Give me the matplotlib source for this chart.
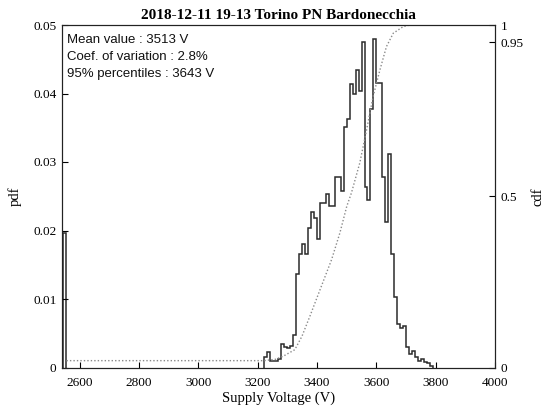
import matplotlib
matplotlib.use("Agg")
import matplotlib.pyplot as plt
import numpy as np

title = "2018-12-11 19-13 Torino PN Bardonecchia"
stats_lines = ["Mean value : 3513 V", "Coef. of variation : 2.8%", "95% percentiles : 3643 V"]

# isolated low-voltage bin
spike_edges = [2545, 2555]
spike_pdf = [0.0197]

# main histogram, 10 V bins starting at 3220 V
main_start = 3220
bin_width = 10
main_pdf = [
    0.0015, 0.0022, 0.0010, 0.0010, 0.0010, 0.0013, 0.0035, 0.0030, 0.0028, 0.0032,  # 3220-3310
    0.0048, 0.0136, 0.0166, 0.0180, 0.0166, 0.0203, 0.0227, 0.0218, 0.0188, 0.0240,  # 3320-3410
    0.0240, 0.0254, 0.0236, 0.0236, 0.0278, 0.0278, 0.0258, 0.0351, 0.0363, 0.0414,  # 3420-3510
    0.0399, 0.0434, 0.0404, 0.0475, 0.0263, 0.0244, 0.0378, 0.0480, 0.0416, 0.0416,  # 3520-3610
    0.0278, 0.0212, 0.0312, 0.0166, 0.0103, 0.0064, 0.0057, 0.0060, 0.0030, 0.0020,  # 3620-3710
    0.0024, 0.0016, 0.0010, 0.0012, 0.0008, 0.0006, 0.0002,                          # 3720-3780
]

# cumulative distribution
cdf_v = [2555, 3220, 3260, 3286, 3325, 3349, 3376, 3410, 3449, 3477, 3500, 3516,
         3544, 3567, 3589, 3612, 3634, 3657, 3690, 3713, 3790]
cdf_p = [0.02, 0.02, 0.024, 0.033, 0.052, 0.091, 0.15, 0.227, 0.315, 0.393, 0.47, 0.51,
         0.597, 0.694, 0.791, 0.869, 0.937, 0.976, 0.995, 1.0, 1.0]

x_ticks = [2600, 2800, 3000, 3200, 3400, 3600, 3800, 4000]
pdf_ticks = [0, 0.01, 0.02, 0.03, 0.04, 0.05]
pdf_tick_labels = ["0", "0.01", "0.02", "0.03", "0.04", "0.05"]
cdf_ticks = [0, 0.5, 0.95, 1]
cdf_tick_labels = ["0", "0.5", "0.95", "1"]

serif = ["Liberation Serif", "DejaVu Serif"]
sans = ["Liberation Sans", "DejaVu Sans"]

fig = plt.figure(figsize=(5.48, 4.09), dpi=100)
ax = fig.add_axes([62 / 548, 1 - 367.5 / 409, (495 - 62) / 548, (367.5 - 25) / 409])

main_edges = main_start + bin_width * np.arange(len(main_pdf) + 1)
ax.stairs(main_pdf, main_edges, baseline=0, color="#2b2b2b", linewidth=1.1)
ax.stairs(spike_pdf, spike_edges, baseline=0, color="#2b2b2b", linewidth=1.1)

ax.set_xlim(2540, 4000)
ax.set_ylim(0, 0.05)
ax.set_xticks(x_ticks)
ax.set_xticklabels([str(t) for t in x_ticks], family=serif, fontsize=9.5)
ax.set_yticks(pdf_ticks)
ax.set_yticklabels(pdf_tick_labels, family=serif, fontsize=9.5)
ax.tick_params(direction="in", length=4, width=0.8, pad=4)
ax.tick_params(axis="x", pad=6.5)
ax.set_xlabel("Supply Voltage (V)", family=serif, fontsize=10.5, labelpad=2)
ax.set_ylabel("pdf", family=serif, fontsize=10.5, labelpad=8)
ax.set_title(title, family=serif, fontsize=11, fontweight="bold", pad=4)

ax2 = ax.twinx()
ax2.plot(cdf_v, cdf_p, linestyle=(0, (1, 1.5)), color="#8a8a8a", linewidth=1.0)
ax2.set_ylim(0, 1)
ax2.set_yticks(cdf_ticks)
ax2.set_yticklabels(cdf_tick_labels, family=serif, fontsize=9.5)
ax2.tick_params(direction="in", length=4, width=0.8, pad=4)
ax2.set_ylabel("cdf", family=serif, fontsize=10.5, labelpad=6)

for a in (ax, ax2):
    for s in a.spines.values():
        s.set_linewidth(0.8)
        s.set_color("#222222")

for i, line in enumerate(stats_lines):
    ax.text(0.012, 0.975 - i * 0.05, line, transform=ax.transAxes, family=sans,
            fontsize=9.5, va="top", ha="left", color="#111111")

fig.savefig("out.png", dpi=100)
